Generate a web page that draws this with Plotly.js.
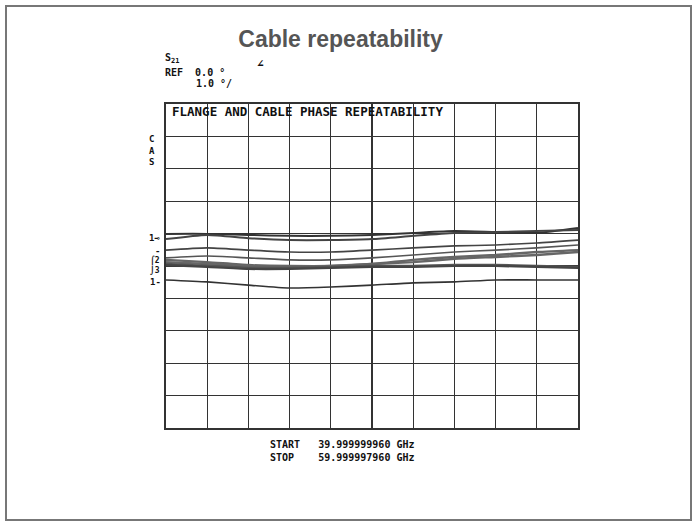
<!DOCTYPE html>
<html>
<head>
<meta charset="utf-8">
<script src="https://cdn.plot.ly/plotly-3.0.1.min.js"></script>
<style>html,body{margin:0;padding:0;background:#fff;}#chart{width:695px;height:524px;}</style>
</head>
<body>
<div id="chart"></div>
<script>
// Frequency (GHz) sample points across the sweep 40 -> 60 GHz
const freqGHz = [40, 42, 44, 46, 48, 50, 52, 54, 56, 58, 60];
// Phase (degrees) of each repeated measurement, REF 0.0 deg, 1.0 deg/div
const trace1 = [0.99, 0.99, 0.96, 0.93, 0.93, 0.96, 1.02, 1.08, 1.05, 1.02, 1.17];
const trace2 = [0.83, 0.96, 0.86, 0.80, 0.80, 0.83, 0.93, 1.02, 1.05, 1.08, 1.11];
const trace3 = [0.49, 0.56, 0.49, 0.43, 0.43, 0.49, 0.56, 0.62, 0.65, 0.71, 0.80];
const trace4 = [0.25, 0.31, 0.25, 0.19, 0.19, 0.25, 0.34, 0.43, 0.49, 0.56, 0.65];
const trace5 = [0.19, 0.12, 0.03, 0.00, 0.00, 0.06, 0.19, 0.28, 0.34, 0.43, 0.49];
const trace6 = [0.12, 0.06, 0.00, -0.03, 0.00, 0.06, 0.12, 0.22, 0.28, 0.34, 0.43];
const trace7 = [0.06, 0.00, -0.06, -0.06, -0.03, 0.00, 0.00, 0.03, 0.03, 0.00, -0.03];
const trace8 = [0.03, -0.03, -0.09, -0.09, -0.06, -0.03, -0.03, 0.00, 0.00, -0.03, -0.06];
const trace9 = [-0.43, -0.49, -0.59, -0.68, -0.65, -0.59, -0.52, -0.49, -0.43, -0.43, -0.43];
const allTraces = [trace1, trace2, trace3, trace4, trace5, trace6, trace7, trace8, trace9];
const traceColors = ['#333', '#444', '#444', '#555', '#666', '#666', '#555', '#444', '#333'];
const traceWidths = [2, 2, 1.6, 1.6, 2.4, 2.4, 2.6, 2.2, 1.6];

const chartTitle = 'Cable repeatability';
const plotLabel = 'FLANGE AND CABLE PHASE REPEATABILITY';
const startText = 'START   39.999999960 GHz';
const stopText = 'STOP    59.999997960 GHz';

// plot area in pixels (for placing the fixed instrument text)
const L = 166, R = 578, T = 104, B = 428;
const px = x => (x - L) / (R - L);
const py = y => (B - y) / (B - T);

const data = allTraces.map((ys, i) => ({
  x: freqGHz, y: ys, type: 'scatter', mode: 'lines',
  line: {color: traceColors[i], width: traceWidths[i], shape: 'spline', smoothing: 0.6},
  hoverinfo: 'skip', showlegend: false
}));

const mono = 'DejaVu Sans Mono, Liberation Mono, monospace';
function ann(text, x, y, size, xanchor, extra) {
  return Object.assign({
    text: text, xref: 'paper', yref: 'paper', x: px(x), y: py(y),
    xanchor: xanchor || 'left', yanchor: 'middle', showarrow: false,
    font: {family: mono, size: size, color: '#111', weight: 'bold'}
  }, extra || {});
}

const layout = {
  width: 695, height: 524,
  paper_bgcolor: '#fff', plot_bgcolor: '#fff',
  margin: {l: L, r: 695 - R, t: T, b: 524 - B, pad: 0},
  showlegend: false,
  title: {
    text: chartTitle, x: 0.49, xanchor: 'center', y: 1 - 39 / 524, yanchor: 'middle',
    font: {family: 'Liberation Sans, Arial, sans-serif', size: 23, color: '#555', weight: 'bold'}
  },
  xaxis: {
    range: [40, 60], dtick: 2, tick0: 40, showticklabels: false, ticks: '',
    showgrid: true, gridcolor: '#333', gridwidth: 1.2,
    showline: true, mirror: true, linecolor: '#333', linewidth: 1.6, zeroline: false, fixedrange: true
  },
  yaxis: {
    range: [-5, 5], dtick: 1, tick0: 0, showticklabels: false, ticks: '',
    showgrid: true, gridcolor: '#333', gridwidth: 1.2,
    showline: true, mirror: true, linecolor: '#333', linewidth: 1.6, zeroline: false, fixedrange: true
  },
  shapes: [{
    type: 'rect', xref: 'paper', yref: 'paper',
    x0: px(6), x1: px(691), y0: py(6), y1: py(520),
    line: {color: '#777', width: 2}
  }],
  annotations: [
    ann('S<sub>21</sub>', 163, 58, 10),
    ann('∠', 255, 63, 11),
    ann('REF  0.0 °', 163, 72, 10),
    ann('1.0 °/', 194, 84, 10),
    ann(plotLabel, 170, 111, 12.5),
    ann('C<br>A<br>S', 152, 150, 9, 'center'),
    ann('1⊸', 162, 238, 9, 'right'),
    ann('-', 162, 251, 9, 'right'),
    ann('⌠2<br>⌡3', 162, 265, 8, 'right'),
    ann('1-', 163, 282, 9, 'right'),
    ann(startText, 268, 444, 10),
    ann(stopText, 268, 457, 10)
  ]
};

Plotly.newPlot('chart', data, layout, {staticPlot: true, displayModeBar: false});
</script>
</body>
</html>
